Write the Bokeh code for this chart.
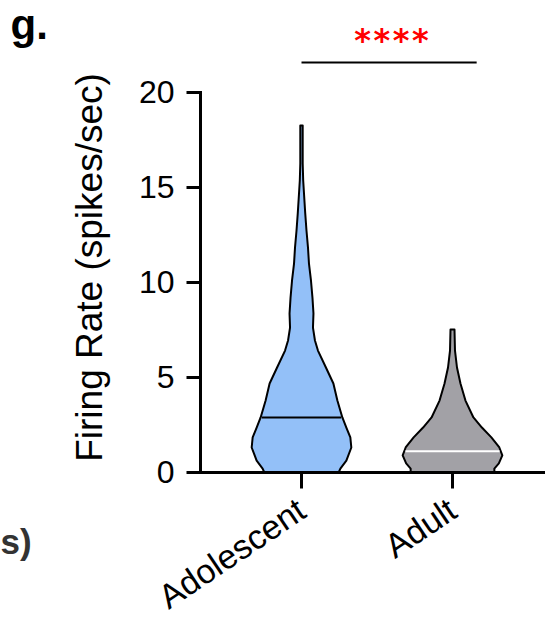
import numpy as np
from bokeh.plotting import figure
from bokeh.models import Range1d, FixedTicker, Label
from bokeh.embed import file_html
from bokeh.resources import INLINE

# ---------------- data ----------------
categories = ["Adolescent", "Adult"]
positions = [1, 2]

# violin outlines: level (spikes/sec) and relative half-width (0..1)
adol_levels = [0.0, 0.18, 0.6, 1.29, 1.82, 2.34, 2.87, 3.76, 4.66, 5.5, 6.39,
               6.92, 7.6, 8.34, 9.18, 10.08, 10.97, 11.82, 12.71, 13.61,
               14.45, 15.34, 16.24, 18.24]
adol_width = [0.75, 0.78, 0.90, 1.0, 0.98, 0.90, 0.82, 0.72, 0.64, 0.49, 0.33,
              0.27, 0.23, 0.24, 0.22, 0.19, 0.15, 0.13, 0.10, 0.075,
              0.055, 0.034, 0.024, 0.024]

adult_levels = [0.0, 0.18, 0.45, 0.87, 1.29, 1.82, 2.34, 2.87, 3.76, 4.66,
                5.5, 6.39, 7.5]
adult_width = [0.84, 0.84, 0.93, 1.0, 0.94, 0.78, 0.59, 0.42, 0.26, 0.16,
               0.09, 0.05, 0.04]

medians = [2.87, 1.09]
y_ticks = [0, 5, 10, 15, 20]

sig_x = [1.0, 2.16]
sig_y = 21.55
sig_label = "****"

fills = ["#93C0F8", "#A2A1A6"]
median_colors = ["black", "white"]

# ---------------- figure geometry ----------------
W, H = 545, 616
PXU_X, PXU_Y = 151.0, 19.0     # px per data unit
X_AT = 301.0                   # pixel column of the first category
Y0_AT = 471.5                  # pixel row of y = 0


def px_x(cx):
    return 1 + (cx - X_AT) / PXU_X


def px_y(cy):
    return (Y0_AT - cy) / PXU_Y


p = figure(width=W, height=H, output_backend="svg", toolbar_location=None,
           x_range=Range1d(px_x(0), px_x(W)), y_range=Range1d(px_y(H), px_y(0)),
           min_border_left=0, min_border_bottom=0, min_border_top=0,
           min_border_right=0)
p.outline_line_color = None
p.xgrid.visible = False
p.ygrid.visible = False
p.background_fill_color = "white"
p.border_fill_color = "white"

FONT = "Liberation Sans"
HW = 0.33  # max half-width in data units

profiles = [(adol_levels, adol_width), (adult_levels, adult_width)]
for i, (lv, wd) in enumerate(profiles):
    c = positions[i]
    lv = np.array(lv, dtype=float)
    wd = np.array(wd, dtype=float) * HW
    xs = np.concatenate([c - wd, (c + wd)[::-1]])
    ys = np.concatenate([lv, lv[::-1]])
    p.patch(xs, ys, fill_color=fills[i], line_color="black", line_width=2,
            line_join="round")
    m = medians[i]
    mw = float(np.interp(m, lv, wd)) - 0.008
    p.segment(x0=[c - mw], y0=[m], x1=[c + mw], y1=[m],
              line_color=median_colors[i], line_width=2)

# significance bar
p.segment(x0=[sig_x[0]], y0=[sig_y], x1=[sig_x[1]], y1=[sig_y],
          line_color="black", line_width=2)
p.add_layout(Label(x=px_x(391), y=px_y(39), text=sig_label,
                   text_font="DejaVu Sans Mono", text_font_size="32px",
                   text_font_style="bold",
                   text_color="#FF0000", text_align="center",
                   text_baseline="middle"))

# axes (placed inside the full-canvas frame)
yax = p.yaxis[0]
yax.fixed_location = px_x(200)
yax.ticker = FixedTicker(ticks=y_ticks)
yax.bounds = (0, 20)
yax.axis_line_width = 3
yax.axis_line_cap = "square"
yax.major_tick_line_width = 3
yax.major_tick_out = 14
yax.major_tick_in = 0
yax.minor_tick_line_color = None
yax.major_label_text_font = FONT
yax.major_label_text_font_size = "32px"
yax.major_label_text_color = "black"
yax.major_label_standoff = 12

xax = p.xaxis[0]
xax.fixed_location = 0
xax.ticker = FixedTicker(ticks=positions)
xax.bounds = (px_x(200), px_x(W))
xax.major_label_overrides = {pos: cat for pos, cat in zip(positions, categories)}
xax.axis_line_width = 3
xax.major_tick_line_width = 3
xax.major_tick_out = 16
xax.major_tick_in = 0
xax.minor_tick_line_color = None
xax.major_label_text_font = FONT
xax.major_label_text_font_size = "34px"
xax.major_label_text_color = "black"
xax.major_label_orientation = np.deg2rad(34)
xax.major_label_standoff = 18

# y title as rotated label
p.add_layout(Label(x=px_x(88.5), y=px_y(267), text="Firing Rate (spikes/sec)",
                   angle=np.pi / 2, text_font=FONT, text_font_size="37px",
                   text_color="black", text_align="center",
                   text_baseline="middle"))

# panel letter and neighbouring fragment
p.add_layout(Label(x=px_x(10), y=px_y(24), text="g.", text_font=FONT,
                   text_font_size="42px", text_font_style="bold",
                   text_color="black", text_align="left",
                   text_baseline="middle"))
p.add_layout(Label(x=px_x(0), y=px_y(541), text="s)", text_font=FONT,
                   text_font_size="35px", text_font_style="bold",
                   text_color="#333333", text_align="left",
                   text_baseline="middle"))

open("out.html", "w").write(file_html(p, INLINE))
